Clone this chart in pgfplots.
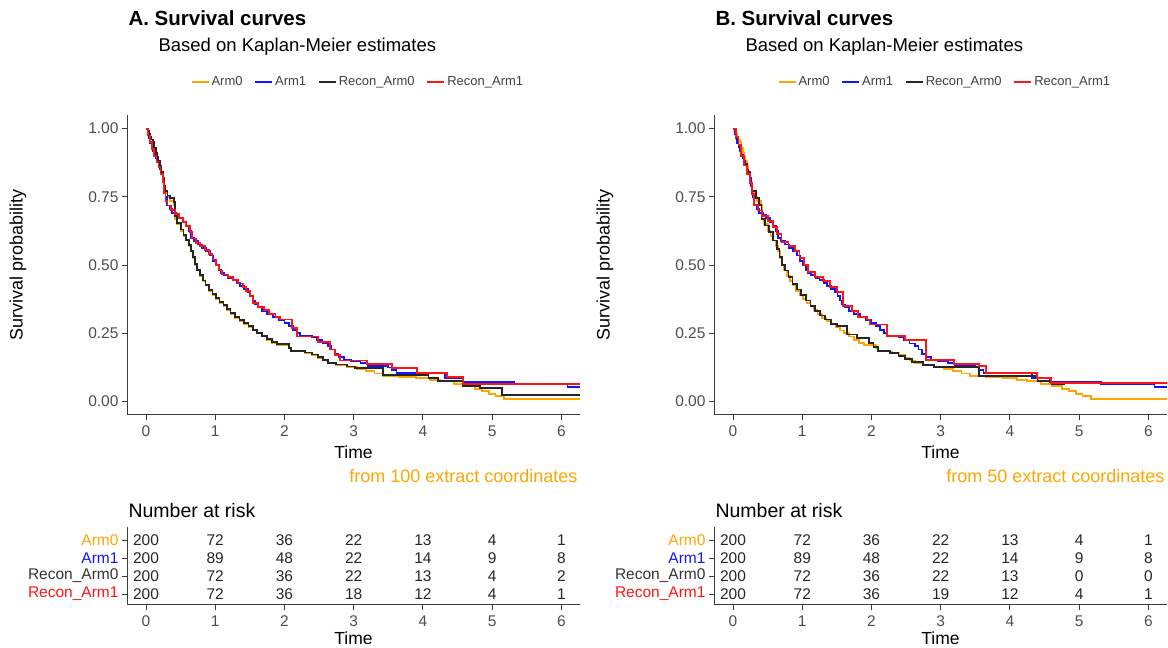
\documentclass[border=0pt]{standalone}
\usepackage{fontspec}
\setmainfont{Liberation Sans}
\usepackage{pgfplots}
\pgfplotsset{compat=1.18}
\usepackage{pgfplotstable}
\definecolor{armorange}{RGB}{255,165,0}
\definecolor{armblue}{RGB}{20,20,255}
\definecolor{armred}{RGB}{255,20,20}
\definecolor{axisgrey}{RGB}{60,60,60}
\definecolor{ticktext}{RGB}{77,77,77}

\pgfplotstableread{
t s
0 1.0
0.02 0.99
0.04 0.98
0.06 0.97
0.08 0.96
0.10 0.95
0.12 0.93
0.14 0.91
0.16 0.895
0.18 0.88
0.20 0.865
0.22 0.84
0.24 0.815
0.26 0.79
0.28 0.765
0.31 0.75
0.35 0.735
0.40 0.72
0.42 0.67
0.45 0.65
0.50 0.625
0.54 0.605
0.58 0.59
0.62 0.57
0.65 0.55
0.68 0.525
0.71 0.50
0.74 0.48
0.78 0.46
0.82 0.44
0.86 0.425
0.91 0.405
0.96 0.39
1.01 0.375
1.06 0.36
1.12 0.35
1.17 0.335
1.22 0.32
1.28 0.305
1.35 0.295
1.42 0.285
1.48 0.272
1.54 0.26
1.60 0.25
1.67 0.238
1.75 0.226
1.82 0.215
1.89 0.208
2.06 0.195
2.09 0.183
2.30 0.177
2.40 0.17
2.48 0.16
2.56 0.15
2.63 0.14
2.75 0.133
2.90 0.126
3.05 0.12
3.18 0.11
3.30 0.102
3.42 0.094
3.65 0.09
3.90 0.086
4.10 0.078
4.25 0.074
4.45 0.065
4.60 0.056
4.75 0.046
4.85 0.037
4.95 0.028
5.05 0.02
5.17 0.010
6.27 0.010
}\armzero

\pgfplotstableread{
t s
0 1.0
0.02 0.98
0.04 0.965
0.06 0.948
0.08 0.932
0.10 0.918
0.12 0.905
0.14 0.893
0.16 0.88
0.18 0.865
0.20 0.85
0.22 0.835
0.24 0.82
0.26 0.79
0.28 0.75
0.30 0.718
0.34 0.705
0.38 0.692
0.43 0.682
0.48 0.672
0.53 0.658
0.58 0.642
0.62 0.625
0.65 0.60
0.69 0.588
0.75 0.575
0.81 0.562
0.87 0.55
0.92 0.535
0.97 0.515
1.01 0.50
1.05 0.483
1.08 0.47
1.13 0.462
1.19 0.453
1.25 0.444
1.31 0.435
1.36 0.424
1.42 0.412
1.47 0.40
1.51 0.385
1.54 0.37
1.57 0.355
1.62 0.345
1.68 0.33
1.75 0.32
1.83 0.308
1.92 0.298
2.00 0.288
2.06 0.275
2.12 0.262
2.18 0.25
2.23 0.24
2.40 0.235
2.47 0.224
2.55 0.212
2.63 0.203
2.68 0.19
2.73 0.175
2.78 0.162
2.86 0.152
2.96 0.146
3.10 0.14
3.20 0.13
3.50 0.124
3.55 0.115
3.62 0.104
4.32 0.086
4.58 0.07
5.32 0.062
6.09 0.053
6.27 0.053
}\armone

\pgfplotstableread{
t s
0 1.0
0.02 0.99
0.04 0.98
0.06 0.97
0.08 0.96
0.10 0.95
0.12 0.93
0.14 0.91
0.16 0.895
0.18 0.88
0.20 0.865
0.22 0.84
0.24 0.815
0.26 0.79
0.28 0.77
0.31 0.755
0.35 0.745
0.40 0.73
0.42 0.68
0.45 0.655
0.50 0.63
0.54 0.61
0.58 0.592
0.62 0.572
0.65 0.552
0.68 0.528
0.71 0.503
0.74 0.483
0.78 0.462
0.82 0.443
0.86 0.428
0.91 0.408
0.96 0.393
1.01 0.378
1.06 0.363
1.12 0.352
1.17 0.338
1.22 0.323
1.28 0.308
1.35 0.298
1.42 0.288
1.48 0.275
1.54 0.263
1.60 0.252
1.67 0.24
1.75 0.228
1.82 0.217
1.89 0.21
2.06 0.197
2.09 0.185
2.30 0.179
2.40 0.172
2.48 0.162
2.56 0.152
2.63 0.142
2.75 0.135
2.90 0.128
3.02 0.122
3.42 0.096
4.08 0.086
4.22 0.074
4.58 0.056
4.82 0.048
5.14 0.022
6.27 0.022
}\reconzeroA

\pgfplotstableread{
t s
0 1.0
0.03 0.975
0.06 0.95
0.09 0.925
0.12 0.90
0.15 0.878
0.18 0.858
0.21 0.835
0.24 0.805
0.26 0.765
0.28 0.735
0.31 0.718
0.36 0.702
0.42 0.688
0.48 0.672
0.53 0.658
0.58 0.643
0.63 0.622
0.66 0.597
0.72 0.582
0.78 0.57
0.85 0.556
0.91 0.54
0.96 0.52
1.01 0.50
1.05 0.48
1.10 0.465
1.18 0.455
1.26 0.445
1.33 0.432
1.40 0.42
1.45 0.405
1.50 0.385
1.55 0.36
1.62 0.345
1.70 0.335
1.78 0.32
1.87 0.31
1.94 0.30
2.11 0.27
2.18 0.238
2.49 0.218
2.66 0.19
2.73 0.17
2.80 0.15
3.19 0.137
3.55 0.122
3.92 0.105
4.35 0.089
4.58 0.064
6.27 0.064
}\recononeA

\pgfplotstableread{
t s
0 1.0
0.04 0.965
0.08 0.935
0.12 0.90
0.16 0.87
0.20 0.84
0.24 0.80
0.28 0.77
0.33 0.745
0.38 0.72
0.41 0.67
0.46 0.645
0.52 0.62
0.58 0.59
0.63 0.56
0.67 0.53
0.71 0.50
0.75 0.48
0.80 0.455
0.86 0.43
0.92 0.41
0.98 0.39
1.05 0.37
1.12 0.35
1.18 0.33
1.26 0.315
1.33 0.30
1.42 0.285
1.50 0.275
1.65 0.245
1.79 0.232
1.96 0.215
2.03 0.20
2.10 0.186
2.27 0.178
2.39 0.166
2.49 0.155
2.58 0.143
2.75 0.134
2.90 0.126
3.55 0.094
4.40 0.074
4.60 0.064
4.79 0.064
}\reconzeroB

\pgfplotstableread{
t s
0 1.0
0.04 0.97
0.08 0.94
0.12 0.90
0.16 0.865
0.20 0.835
0.24 0.80
0.27 0.76
0.30 0.72
0.36 0.70
0.42 0.68
0.50 0.66
0.58 0.64
0.64 0.615
0.70 0.585
0.80 0.57
0.90 0.55
0.96 0.525
1.02 0.50
1.08 0.475
1.18 0.455
1.30 0.44
1.40 0.42
1.50 0.40
1.59 0.35
1.72 0.33
1.81 0.31
1.93 0.30
1.98 0.282
2.22 0.241
2.49 0.226
2.79 0.152
3.19 0.137
3.55 0.129
3.65 0.104
4.39 0.086
4.59 0.067
6.30 0.067
}\recononeB

\pgfplotsset{
  baseaxis/.style={
    scale only axis, width=453pt,
    xmin=-0.275, xmax=6.27,
    axis lines=left, axis line style={-, line width=1pt, axisgrey},
    tick align=outside, major tick length=5pt,
    tick style={line width=0.9pt, axisgrey},
    xtick={0,1,2,3,4,5,6},
    /pgf/number format/assume math mode=true,
    tick label style={font=\fontsize{15.5}{18}\selectfont, text=ticktext},
    xticklabel style={yshift=-2pt},
  },
  kmaxis/.style={
    baseaxis, height=300pt,
    ymin=-0.05, ymax=1.05,
    ytick={0,0.25,0.5,0.75,1},
    yticklabels={0.00,0.25,0.50,0.75,1.00},
    legend style={at={(0.51,1.11)}, anchor=center, draw=none, fill=none,
      font=\fontsize{13}{15}\selectfont, text=black!75,
      legend columns=4,
      /tikz/every even column/.append style={column sep=10pt}},
    legend image code/.code={\draw[##1, line width=1.6pt] (0pt,0pt) -- (17pt,0pt);},
  },
  riskaxis/.style={
    baseaxis, height=78pt,
    ymin=0.39, ymax=4.72,
    ytick={1,2,3,4},
  },
  km/.style={const plot, line width=1.8pt},
  risknums/.style={draw=none, mark=none, nodes near coords, point meta=explicit symbolic,
    nodes near coords style={anchor=center, font=\fontsize{15.5}{18}\selectfont, text=black!85}},
}

\begin{document}
\begin{tikzpicture}[x=1pt,y=1pt]
\path[use as bounding box] (0,0) rectangle (1168,648);

% ---------------- Panel A ----------------
\node[anchor=base west, font=\bfseries\fontsize{20.5}{24}\selectfont] at (125,622.7) {A. Survival curves};
\node[anchor=base west, font=\fontsize{18.5}{22}\selectfont] at (155,596.3) {Based on Kaplan-Meier estimates};
\node[rotate=90, font=\fontsize{18}{20}\selectfont] at (18,383) {Survival probability};
\node[font=\fontsize{17.5}{20}\selectfont] at (353.5,196) {Time};
\node[anchor=east, font=\fontsize{18}{20}\selectfont, text=armorange] at (581,172) {from 100 extract coordinates};
\node[anchor=base west, font=\fontsize{19.5}{22}\selectfont] at (125,130) {Number at risk};
\node[font=\fontsize{17.5}{20}\selectfont] at (353.5,10) {Time};

\begin{axis}[kmaxis, at={(127pt,233pt)}, anchor=south west]
\addplot[km, armorange] table {\armzero};
\addlegendentry{Arm0}
\addplot[km, armblue] table {\armone};
\addlegendentry{Arm1}
\addplot[km, black!85] table {\reconzeroA};
\addlegendentry{Recon\_Arm0}
\addplot[km, armred] table {\recononeA};
\addlegendentry{Recon\_Arm1}
\end{axis}

\begin{axis}[riskaxis, at={(127pt,43pt)}, anchor=south west,
  yticklabels={\textcolor{armred}{Recon\_Arm1},\textcolor{black!80}{Recon\_Arm0},\textcolor{armblue}{Arm1},\textcolor{armorange}{Arm0}}]
\addplot[risknums] table[meta=n] {
x y n
0 4 200
1 4 72
2 4 36
3 4 22
4 4 13
5 4 4
6 4 1
0 3 200
1 3 89
2 3 48
3 3 22
4 3 14
5 3 9
6 3 8
0 2 200
1 2 72
2 2 36
3 2 22
4 2 13
5 2 4
6 2 2
0 1 200
1 1 72
2 1 36
3 1 18
4 1 12
5 1 4
6 1 1
};
\end{axis}

% ---------------- Panel B ----------------
\node[anchor=base west, font=\bfseries\fontsize{20.5}{24}\selectfont] at (712,622.7) {B. Survival curves};
\node[anchor=base west, font=\fontsize{18.5}{22}\selectfont] at (742,596.3) {Based on Kaplan-Meier estimates};
\node[rotate=90, font=\fontsize{18}{20}\selectfont] at (605,383) {Survival probability};
\node[font=\fontsize{17.5}{20}\selectfont] at (940.5,196) {Time};
\node[anchor=east, font=\fontsize{18}{20}\selectfont, text=armorange] at (1168,172) {from 50 extract coordinates};
\node[anchor=base west, font=\fontsize{19.5}{22}\selectfont] at (712,130) {Number at risk};
\node[font=\fontsize{17.5}{20}\selectfont] at (940.5,10) {Time};

\begin{axis}[kmaxis, at={(714pt,233pt)}, anchor=south west]
\addplot[km, armorange] table {\armzero};
\addlegendentry{Arm0}
\addplot[km, armblue] table {\armone};
\addlegendentry{Arm1}
\addplot[km, black!85] table {\reconzeroB};
\addlegendentry{Recon\_Arm0}
\addplot[km, armred] table {\recononeB};
\addlegendentry{Recon\_Arm1}
\end{axis}

\begin{axis}[riskaxis, at={(714pt,43pt)}, anchor=south west,
  yticklabels={\textcolor{armred}{Recon\_Arm1},\textcolor{black!80}{Recon\_Arm0},\textcolor{armblue}{Arm1},\textcolor{armorange}{Arm0}}]
\addplot[risknums] table[meta=n] {
x y n
0 4 200
1 4 72
2 4 36
3 4 22
4 4 13
5 4 4
6 4 1
0 3 200
1 3 89
2 3 48
3 3 22
4 3 14
5 3 9
6 3 8
0 2 200
1 2 72
2 2 36
3 2 22
4 2 13
5 2 0
6 2 0
0 1 200
1 1 72
2 1 36
3 1 19
4 1 12
5 1 4
6 1 1
};
\end{axis}
\end{tikzpicture}
\end{document}
